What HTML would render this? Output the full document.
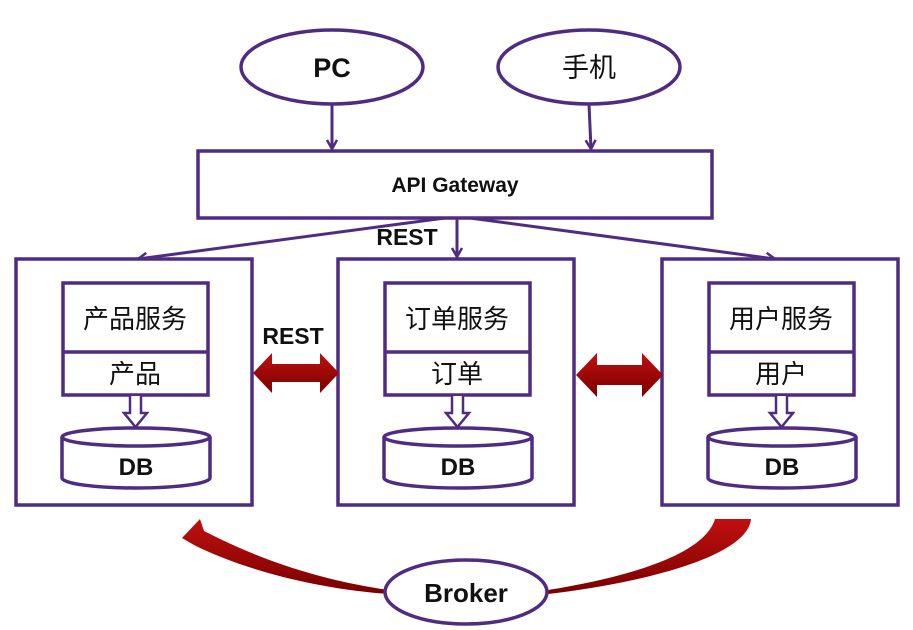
<!DOCTYPE html>
<html><head><meta charset="utf-8"><style>
html,body{margin:0;padding:0;background:#fff;}
svg{display:block}
text{font-family:"Liberation Sans","Noto Sans CJK SC",sans-serif;fill:#111;}
</style></head><body>
<svg width="913" height="630" viewBox="0 0 913 630" xmlns="http://www.w3.org/2000/svg">
<defs>
<marker id="ah" markerWidth="12" markerHeight="12" refX="10" refY="6" orient="auto" markerUnits="userSpaceOnUse">
<path d="M1,1 L10,6 L1,11" fill="none" stroke="#4f2c82" stroke-width="2.5"/>
</marker>
<linearGradient id="rg" x1="0" y1="0" x2="0" y2="1">
<stop offset="0" stop-color="#c01010"/><stop offset="1" stop-color="#7a0000"/>
</linearGradient>
</defs>
<g stroke="#4f2c82" stroke-width="3.5" fill="#fff">
<ellipse cx="332" cy="67" rx="91" ry="37"/>
<ellipse cx="589" cy="67" rx="91" ry="37"/>
<rect x="198" y="151" width="514" height="67"/>
</g>
<text x="332" y="77" font-size="27" font-weight="bold" text-anchor="middle">PC</text>
<text x="589" y="77" font-size="27" text-anchor="middle">手机</text>
<text x="455" y="192" font-size="21" font-weight="bold" text-anchor="middle">API Gateway</text>
<g stroke="#4f2c82" stroke-width="3" fill="none" marker-end="url(#ah)">
<line x1="332" y1="104" x2="332" y2="149"/>
<line x1="589" y1="104" x2="591" y2="149"/>
<line x1="457" y1="218" x2="457" y2="257"/>
<line x1="445" y1="218" x2="138" y2="259"/>
<line x1="470" y1="218" x2="775" y2="259"/>
</g>
<text x="407" y="245" font-size="23" font-weight="bold" text-anchor="middle">REST</text>
<text x="293" y="344" font-size="23" font-weight="bold" text-anchor="middle">REST</text>

<g id="svc">
<g stroke="#4f2c82" stroke-width="3.5" fill="#fff">
<rect x="16" y="259" width="236" height="246"/>
<rect x="63" y="283" width="145" height="112"/>
<line x1="63" y1="352" x2="208" y2="352"/>
<path d="M62,437 L62,478 A74,10 0 0 0 210,478 L210,437"/>
<ellipse cx="136" cy="437" rx="74" ry="9"/>
</g>
<path d="M130,396 L130,413 L124,413 L135.5,427 L147,413 L141,413 L141,396" fill="#fff" stroke="#4f2c82" stroke-width="2.5"/>
</g>
<text x="135" y="328" font-size="26" text-anchor="middle">产品服务</text>
<text x="135" y="383" font-size="26" text-anchor="middle">产品</text>
<text x="136" y="475" font-size="24" font-weight="bold" text-anchor="middle">DB</text>

<use href="#svc" transform="translate(322,0)"/>
<text x="457" y="328" font-size="26" text-anchor="middle">订单服务</text>
<text x="457" y="383" font-size="26" text-anchor="middle">订单</text>
<text x="458" y="475" font-size="24" font-weight="bold" text-anchor="middle">DB</text>

<use href="#svc" transform="translate(646,0)"/>
<text x="781" y="328" font-size="26" text-anchor="middle">用户服务</text>
<text x="781" y="383" font-size="26" text-anchor="middle">用户</text>
<text x="782" y="475" font-size="24" font-weight="bold" text-anchor="middle">DB</text>

<g fill="url(#rg)">
<path d="M253,373 L272,353 L272,364 L320,364 L320,353 L339,373 L320,393 L320,382 L272,382 L272,393 Z"/>
<path d="M576,375 L597,353 L597,365 L642,365 L642,353 L663,375 L642,397 L642,385 L597,385 L597,397 Z"/>
<path d="M182,538 L200,519 L204,531 C260,560 320,580 388,590 L388,594 C310,588 240,568 194,545 Z"/>
<path d="M715,519 L751,519 C748,555 650,582 548,594 L548,590 C640,575 705,552 715,519 Z"/>
</g>
<ellipse cx="466" cy="592" rx="81" ry="32" fill="#fff" stroke="#4f2c82" stroke-width="3.5"/>
<text x="466" y="602" font-size="26" font-weight="bold" text-anchor="middle">Broker</text>
</svg>
</body></html>
